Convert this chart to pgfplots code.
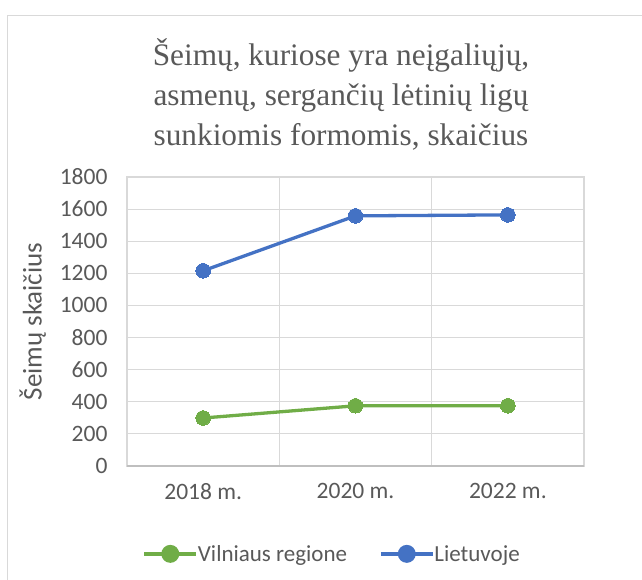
\documentclass[border=0pt]{standalone}
\usepackage{fontspec}
\setmainfont{Carlito}
\newfontfamily\titlefont{Liberation Serif}
\usepackage{pgfplots}
\pgfplotsset{compat=1.18}
\definecolor{gridc}{HTML}{D9D9D9}
\definecolor{axisc}{HTML}{BFBFBF}
\definecolor{txt}{HTML}{595959}
\definecolor{cgreen}{HTML}{70AD47}
\definecolor{cblue}{HTML}{4472C4}
\begin{document}
\begin{tikzpicture}[x=1pt,y=1pt]
\path[use as bounding box] (0,0) rectangle (642,-580);
\draw[gridc,line width=1.2pt] (7.5,-580) -- (7.5,-15.5) -- (642,-15.5);
\node[font=\titlefont\fontsize{31.3}{40}\selectfont,text=txt,align=center,anchor=center] at (341,-94)
 {Šeimų, kuriose yra neįgaliųjų,\\asmenų, sergančių lėtinių ligų\\sunkiomis formomis, skaičius};
\begin{axis}[
 at={(127pt,-466pt)}, anchor=south west,
 scale only axis, width=457pt, height=289pt,
 xmin=-0.5, xmax=2.5, ymin=0, ymax=1800,
 xtick={0,1,2}, xticklabels={2018 m.,2020 m.,2022 m.},
 minor xtick={0.5,1.5},
 ytick={0,200,...,1800},
 ymajorgrids, xminorgrids,
 grid style={gridc,line width=1.2pt},
 minor grid style={gridc,line width=1.2pt},
 major tick length=0pt, minor tick length=0pt,
 axis line style={gridc,line width=1.2pt},
 tick label style={font=\fontsize{23.5}{27}\selectfont,text=txt},
 /pgf/number format/assume math mode=true,
 /pgf/number format/1000 sep={},
 yticklabel style={xshift=-16pt},
 xticklabel style={yshift=-14pt},
 ylabel={Šeimų skaičius},
 ylabel style={font=\fontsize{27}{31}\selectfont,text=txt},
 every axis y label/.append style={at={(ticklabel cs:0.5)},yshift=7pt},
 legend style={at={(0.449,-0.304)},anchor=center,legend columns=2,draw=none,
   font=\fontsize{23}{27}\selectfont,text=txt,inner xsep=0pt,
   /tikz/every even column/.append style={column sep=30pt},
   /tikz/every odd column/.append style={column sep=-2pt}},
 legend image code/.code={
   \draw[#1,mark=none] (0pt,0pt) -- (52pt,0pt);
   \fill[#1] (26pt,0pt) circle (7.3pt);},
 clip=false,
]
\addplot[cgreen,line width=3.3pt,mark=*,mark size=7.3pt,mark options={line width=0pt}] coordinates {(0,299) (1,375) (2,375)};
\addlegendentry{Vilniaus regione}
\addplot[cblue,line width=3.3pt,mark=*,mark size=7.3pt,mark options={line width=0pt}] coordinates {(0,1216) (1,1558) (2,1564)};
\addlegendentry{Lietuvoje}
\draw[axisc,line width=1.3pt] (axis cs:-0.5,0) -- (axis cs:2.5,0);
\end{axis}
\end{tikzpicture}
\end{document}
